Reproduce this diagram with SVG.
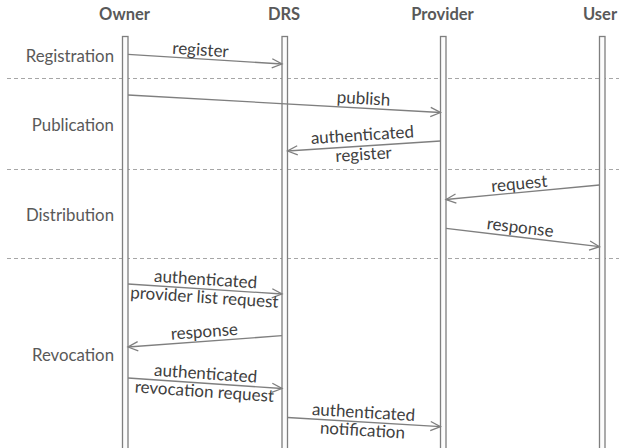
<svg xmlns="http://www.w3.org/2000/svg" width="619" height="448" viewBox="0 0 619 448">
<style>
.hdr{font-family:Lato,"Open Sans","DejaVu Sans",sans-serif;font-weight:bold;font-size:16.5px;fill:#595959;text-anchor:middle}
.sec{font-family:Lato,"Open Sans","DejaVu Sans",sans-serif;font-size:16.8px;fill:#595959;text-anchor:end}
.msg{font-family:Lato,"Open Sans","DejaVu Sans",sans-serif;font-size:17px;fill:#404040;text-anchor:middle}
.life{fill:#fcfcfc;stroke:#7f7f7f;stroke-width:1.3}
.sep{stroke:#a6a6a6;stroke-width:1;stroke-dasharray:4 3;fill:none}
.arr{stroke:#7f7f7f;stroke-width:1.3;fill:none;marker-end:url(#ah)}
</style>
<defs>
<marker id="ah" viewBox="-11 -6 12 12" refX="0" refY="0" markerWidth="12" markerHeight="12" markerUnits="userSpaceOnUse" orient="auto" overflow="visible">
<path d="M-10,-4.6 L0,0 L-10,4.6" fill="none" stroke="#7f7f7f" stroke-width="1.3"/>
</marker>
</defs>
<g id="separators">
<line class="sep" x1="7" y1="78.5" x2="619" y2="78.5"/>
<line class="sep" x1="7" y1="169.5" x2="619" y2="169.5"/>
<line class="sep" x1="7" y1="258.5" x2="619" y2="258.5"/>
</g>
<g id="sections">
<text class="sec" x="114" y="62">Registration</text>
<text class="sec" x="114" y="131">Publication</text>
<text class="sec" x="114" y="221">Distribution</text>
<text class="sec" x="114" y="361">Revocation</text>
</g>
<g id="owner">
<text class="hdr" x="124.5" y="20">Owner</text>
<rect class="life" x="122.5" y="36.5" width="5.5" height="420"/>
</g>
<g id="drs">
<text class="hdr" x="284" y="20">DRS</text>
<rect class="life" x="282" y="36.5" width="5.5" height="420"/>
</g>
<g id="provider">
<text class="hdr" x="442.5" y="20">Provider</text>
<rect class="life" x="440.5" y="36.5" width="5.5" height="420"/>
</g>
<g id="user">
<text class="hdr" x="600" y="20">User</text>
<rect class="life" x="599.5" y="36.5" width="5.5" height="420"/>
</g>
<g id="connectors">
<line class="arr" x1="128" y1="54.3" x2="282" y2="64"/>
<line class="arr" x1="128" y1="95" x2="440.5" y2="112.5"/>
<line class="arr" x1="440.5" y1="141" x2="287.5" y2="151"/>
<line class="arr" x1="599.5" y1="185" x2="446" y2="199.5"/>
<line class="arr" x1="446" y1="228.3" x2="599.5" y2="246.7"/>
<line class="arr" x1="128" y1="284" x2="282" y2="294"/>
<line class="arr" x1="282" y1="335.7" x2="128" y2="347"/>
<line class="arr" x1="128" y1="378" x2="282" y2="388.5"/>
<line class="arr" x1="287.5" y1="417.5" x2="440.5" y2="426.7"/>
</g>
<g id="labels">
<g transform="translate(200,58.5) rotate(3.6)"><text class="msg" x="0" y="-3">register</text></g>
<g transform="translate(363,108.2) rotate(3.2)"><text class="msg" x="0" y="-4">publish</text></g>
<g transform="translate(363,145.6) rotate(-3.7)"><text class="msg" x="0" y="-5">authenticated</text><text class="msg" x="0" y="14.5">register</text></g>
<g transform="translate(520,192.3) rotate(-5.4)"><text class="msg" x="0" y="-3">request</text></g>
<g transform="translate(519,237) rotate(6.9)"><text class="msg" x="0" y="-4">response</text></g>
<g transform="translate(205,289) rotate(3.7)"><text class="msg" x="0" y="-4">authenticated</text><text class="msg" x="0" y="14">provider list request</text></g>
<g transform="translate(205,341.3) rotate(-4.2)"><text class="msg" x="0" y="-4">response</text></g>
<g transform="translate(205,383.2) rotate(3.9)"><text class="msg" x="0" y="-4">authenticated</text><text class="msg" x="0" y="14">revocation request</text></g>
<g transform="translate(363,422) rotate(3.4)"><text class="msg" x="0" y="-4">authenticated</text><text class="msg" x="0" y="14">notification</text></g>
</g>
</svg>
